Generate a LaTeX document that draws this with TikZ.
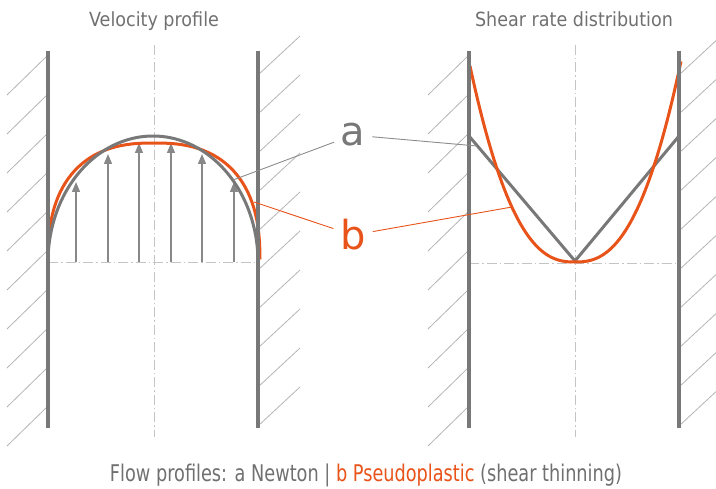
\documentclass[tikz,border=0pt]{standalone}
\usepackage{fontspec}
\setmainfont{DejaVu Sans}
\newfontfamily\titlefont[FakeStretch=0.9]{DejaVu Sans}
\newfontfamily\capfont[FakeStretch=0.77]{DejaVu Sans}
\usetikzlibrary{arrows.meta}
\definecolor{wallgray}{HTML}{787878}
\definecolor{hatchgray}{HTML}{B4B4B4}
\definecolor{axisgray}{HTML}{C4C4C4}
\definecolor{txtgray}{HTML}{707070}
\definecolor{orng}{HTML}{E8531A}
\definecolor{arrgray}{HTML}{888888}
\definecolor{leadgray}{HTML}{8C8C8C}
\begin{document}
\begin{tikzpicture}[x=1pt,y=-1pt,
 wall/.style={line width=3.5pt, wallgray},
 hatch/.style={line width=0.8pt, hatchgray},
 axis/.style={line width=0.8pt, axisgray, dash pattern=on 10pt off 3pt on 1.5pt off 3pt},
 newton/.style={line width=3pt, wallgray, line join=round},
 pseudo/.style={line width=3pt, orng, line join=round},
 velarrow/.style={line width=1.3pt, arrgray, -{Triangle[length=10pt,width=8pt]}},
 leadera/.style={line width=0.9pt, leadgray, shorten <=7pt},
 leaderb/.style={line width=0.9pt, orng, shorten <=7pt},
 lbl/.style={font=\fontsize{40}{40}\selectfont, inner sep=0pt, anchor=base},
 title/.style={font=\titlefont\fontsize{19.5}{20}\selectfont, text=txtgray, inner sep=0pt, anchor=base},
 captxt/.style={font=\capfont\fontsize{23}{24}\selectfont, text=txtgray, inner sep=0pt, anchor=base},
]
\useasboundingbox (0,0) rectangle (716,489);
% hatching
\foreach \k in {0,...,9} {
  \draw[hatch] (7,{95+39*\k}) -- (48,{55+39*\k});
  \draw[hatch] (258,{75+39*\k}) -- (300,{36+39*\k});
  \draw[hatch] (428,{95+39*\k}) -- (469,{55+39*\k});
  \draw[hatch] (679,{75+39*\k}) -- (721,{36+39*\k});
}
% axes
\draw[axis] (154,45) -- (154,437);
\draw[axis] (575,45) -- (575,437);
\draw[axis] (48,262) -- (258,262);
\draw[axis] (469,263) -- (679,263);
% velocity arrows
\foreach \x/\t in {76/182,108/154,139/143,171/143,202/154,234/182}
  \draw[velarrow] (\x,262) -- (\x,\t);
% velocity profile curves
\draw[pseudo] plot[domain=0.5:179.5, samples=60] ({154+106*sign(cos(\x))*abs(cos(\x))^0.8},{262-119*sin(\x)^0.8});
\draw[newton] plot[domain=178:2, samples=90] ({153+105*cos(\x)},{262-126*sin(\x)});
% shear rate curves
\draw[newton] (469,136) -- (575,261) -- (679,136);
\draw[pseudo] plot[domain=-1:1.01, samples=81] ({575+105*\x},{262-196*\x*\x*sqrt(abs(\x))});
% walls
\draw[wall] (48,51) -- (48,428);
\draw[wall] (258,51) -- (258,428);
\draw[wall] (469,51) -- (469,428);
\draw[wall] (679,51) -- (679,428);
% leader targets
\coordinate (ga1) at (233,180);
\coordinate (ga2) at (477,146);
\coordinate (pb1) at (254,202);
\coordinate (pb2) at (512,207);
% labels
\node[lbl, text=wallgray] (la) at (353,146) {a};
\node[lbl, text=orng] (lb) at (353,250) {b};
\draw[leadera] (la) -- (ga1);
\draw[leadera] (la) -- (ga2);
\draw[leaderb] (lb) -- (pb1);
\draw[leaderb] (lb) -- (pb2);
% titles
\node[title] (t1) at (154,27) {Velocity profile};
\node[title] (t2) at (574,27) {Shear rate distribution};
\node[captxt] (cap) at (366,482) {Flow profiles: a Newton | \textcolor{orng}{b Pseudoplastic} (shear thinning)};
\end{tikzpicture}
\end{document}
